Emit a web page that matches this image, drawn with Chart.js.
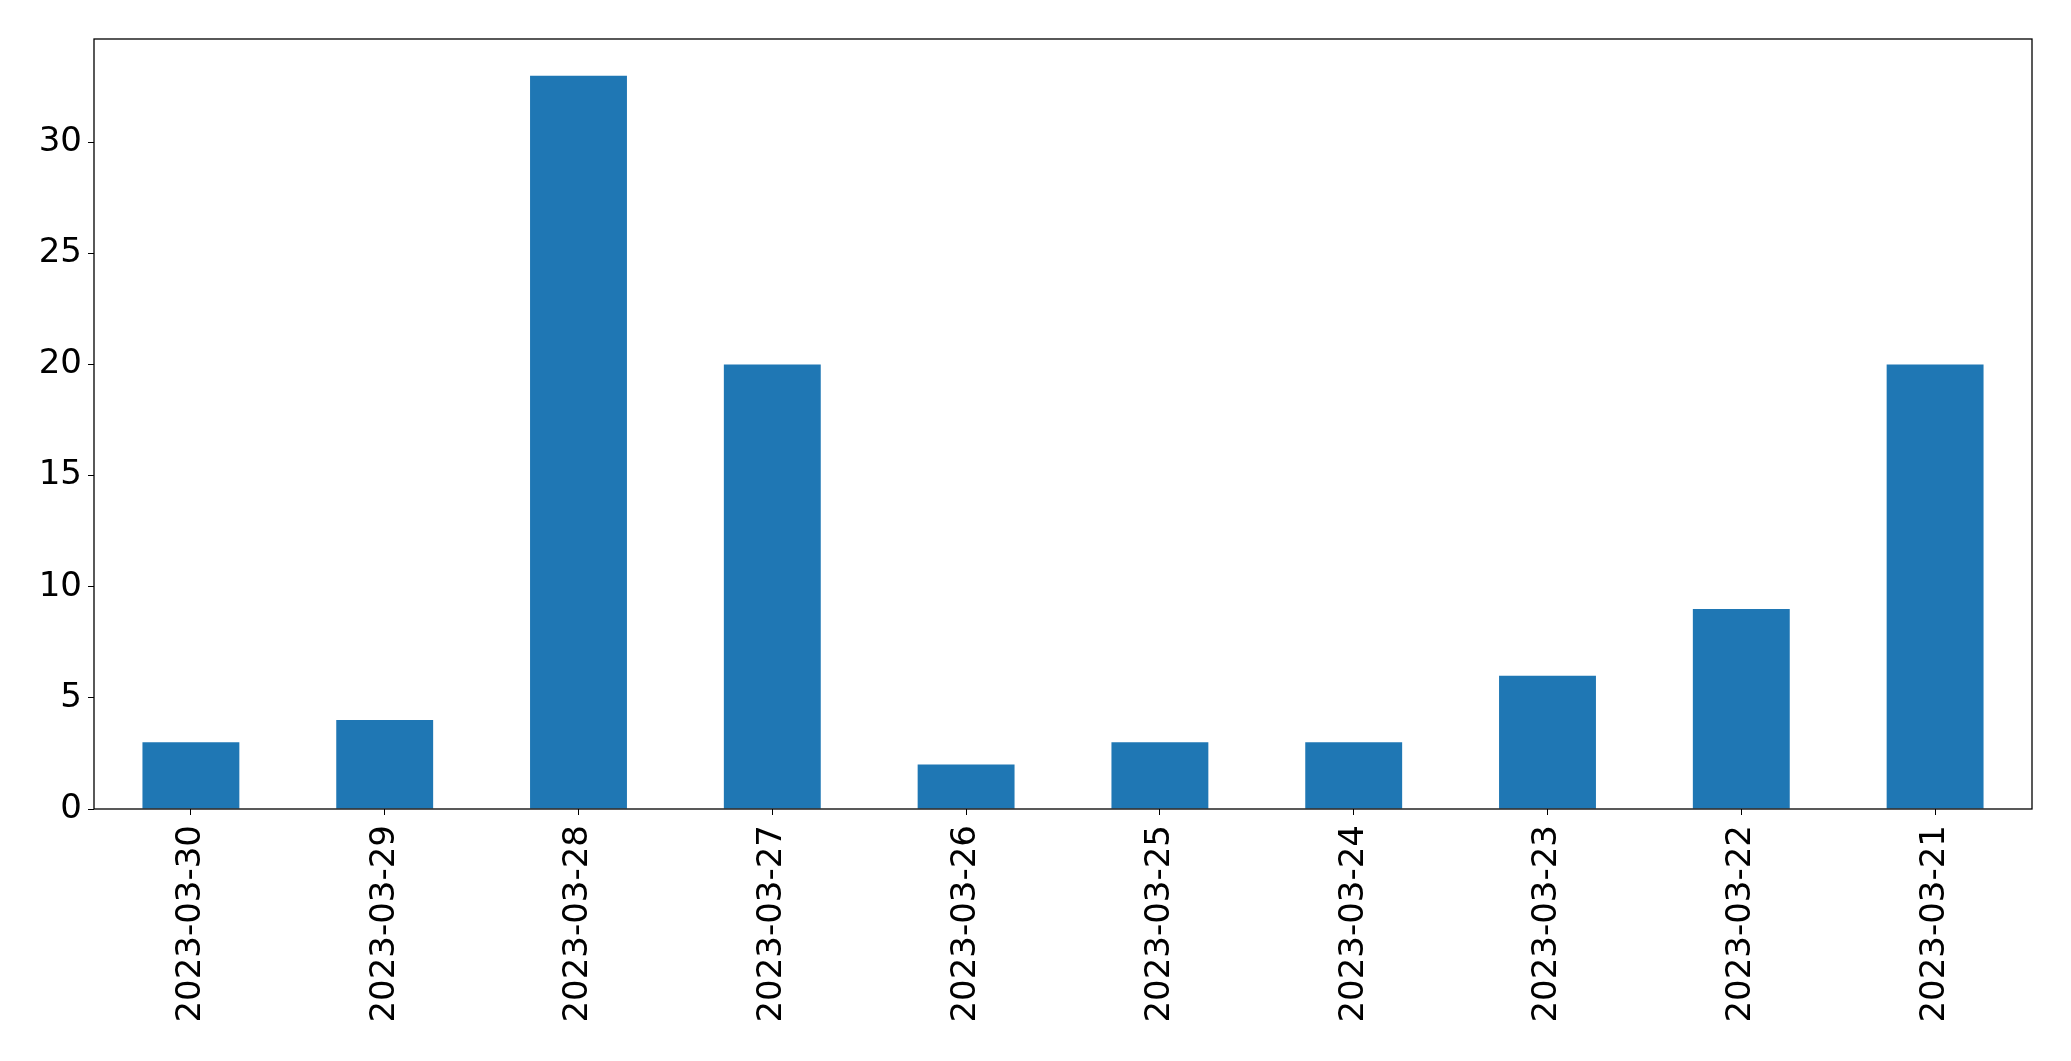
<!DOCTYPE html>
<html>
<head>
<meta charset="utf-8">
<script src="https://cdn.jsdelivr.net/npm/chart.js@4"></script>
<style>
html,body{margin:0;padding:0;background:#fff;}
#wrap{width:2071px;height:1061px;}
</style>
</head>
<body>
<div id="wrap"><canvas id="barChart" width="2071" height="1061"></canvas></div>
<script>

const dates = ["2023-03-30","2023-03-29","2023-03-28","2023-03-27","2023-03-26","2023-03-25","2023-03-24","2023-03-23","2023-03-22","2023-03-21"]
const counts = [3,4,33,20,2,3,3,6,9,20]
const yTicks = [0,5,10,15,20,25,30]

/* kotak sekeliling area plot */
const frame = {
id:"frame",
afterDraw(chart){
const a = chart.chartArea
const c = chart.ctx
c.save()
c.strokeStyle="#000"
c.lineWidth=1.3
c.strokeRect(a.left,a.top,a.right-a.left,a.bottom-a.top)
c.restore()
}
}

const ctx = document.getElementById("barChart")

new Chart(ctx,{
type:"bar",
data:{
labels:dates,
datasets:[{
data:counts,
backgroundColor:"#1f77b4",
categoryPercentage:1,
barPercentage:0.5
}]
},
options:{
responsive:false,
animation:false,
layout:{padding:{top:39,right:39,left:0,bottom:0}},
plugins:{legend:{display:false},tooltip:{enabled:false}},
scales:{
x:{
offset:true,
grid:{display:true,drawOnChartArea:false,drawTicks:true,tickLength:6,color:"#000",offset:false},
border:{display:false},
ticks:{color:"#000",font:{family:"DejaVu Sans",size:34},minRotation:90,maxRotation:90,padding:10,autoSkip:false},
afterFit(s){s.height=252}
},
y:{
min:0,
max:34.65,
grid:{display:true,drawOnChartArea:false,drawTicks:true,tickLength:6,color:"#000"},
border:{display:false},
afterBuildTicks(s){s.ticks=yTicks.map(v=>({value:v}))},
ticks:{color:"#000",font:{family:"DejaVu Sans",size:34},padding:6},
afterFit(s){s.width=94}
}
}
},
plugins:[frame]
})

</script>
</body>
</html>
